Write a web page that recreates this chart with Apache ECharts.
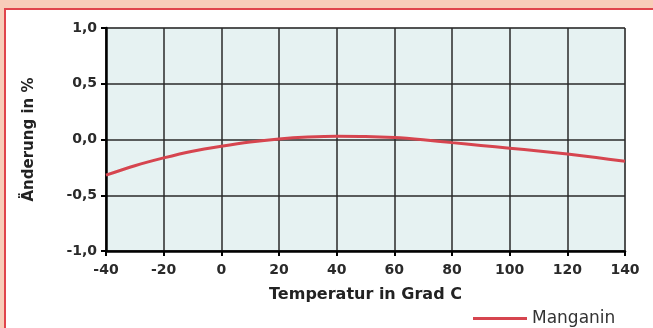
<!DOCTYPE html>
<html>
<head>
<meta charset="utf-8">
<script src="https://cdn.jsdelivr.net/npm/echarts@6/dist/echarts.min.js"></script>
<style>
  html, body { margin: 0; padding: 0; background: #f8cdb9; }
  #frame {
    position: absolute; left: 4px; top: 8px;
    width: 649px; height: 320px;
    border-left: 2px solid #e0454c; border-top: 2px solid #e0454c;
    background: #fff;
  }
  #chart { width: 649px; height: 320px; }
</style>
</head>
<body>
<div id="frame"><div id="chart"></div></div>
<script>
// temperature in Grad C
const temps = [-40, -30, -20, -10, 0, 10, 20, 30, 40, 50, 60, 70, 80, 90, 100, 110, 120, 130, 140]
// Änderung in %
const manganin = [-0.32, -0.235, -0.165, -0.105, -0.06, -0.022, 0.005, 0.022, 0.03, 0.028, 0.017, -0.003, -0.028, -0.053, -0.078, -0.103, -0.13, -0.162, -0.195]
const seriesName = 'Manganin'

const chart = echarts.init(document.getElementById('chart'))

const labelFont = {
  fontFamily: 'DejaVu Sans, sans-serif',
  fontWeight: 'bold',
  fontSize: 14,
  color: '#2a2a2a'
}

let option = {
  animation: false,
  grid: {
    left: 100, right: 30, top: 18, bottom: 79,
    show: true,
    backgroundColor: '#e6f2f2',
    borderColor: '#a0a0a0',
    borderWidth: 1
  },
  legend: {
    left: 462, top: 295,
    icon: 'rect',
    itemWidth: 54, itemHeight: 3,
    itemGap: 6,
    textStyle: { fontFamily: 'DejaVu Sans, sans-serif', fontSize: 17, color: '#333' },
    data: [seriesName]
  },
  xAxis: {
    type: 'value',
    min: -40, max: 140, interval: 20,
    name: 'Temperatur in Grad C',
    nameLocation: 'middle',
    nameGap: 36,
    nameTextStyle: Object.assign({}, labelFont, { fontSize: 16, color: '#222' }),
    axisLine: { show: true, onZero: false, lineStyle: { color: '#000', width: 2.5 } },
    axisTick: { show: true, length: 5, lineStyle: { color: '#000', width: 2 } },
    axisLabel: Object.assign({}, labelFont, { margin: 12 }),
    splitLine: { show: true, lineStyle: { color: '#2a2a2a', width: 1.5 } }
  },
  yAxis: {
    type: 'value',
    min: -1, max: 1, interval: 0.5,
    name: 'Änderung in %',
    nameLocation: 'middle',
    nameGap: 69,
    nameRotate: 90,
    nameTextStyle: Object.assign({}, labelFont, { fontSize: 15, color: '#222' }),
    axisLine: { show: true, onZero: false, lineStyle: { color: '#000', width: 2.5 } },
    axisTick: { show: true, length: 5, lineStyle: { color: '#000', width: 2 } },
    axisLabel: Object.assign({}, labelFont, {
      margin: 9,
      formatter: function (v) { return v.toFixed(1).replace('.', ',') }
    }),
    splitLine: { show: true, lineStyle: { color: '#2a2a2a', width: 1.5 } }
  },
  series: [
    {
      name: seriesName,
      type: 'line',
      smooth: 0.3,
      showSymbol: false,
      data: temps.map((t, i) => [t, manganin[i]]),
      lineStyle: { color: '#d6454f', width: 3 },
      itemStyle: { color: '#d6454f' }
    }
  ]
}

chart.setOption(option)
</script>
</body>
</html>
